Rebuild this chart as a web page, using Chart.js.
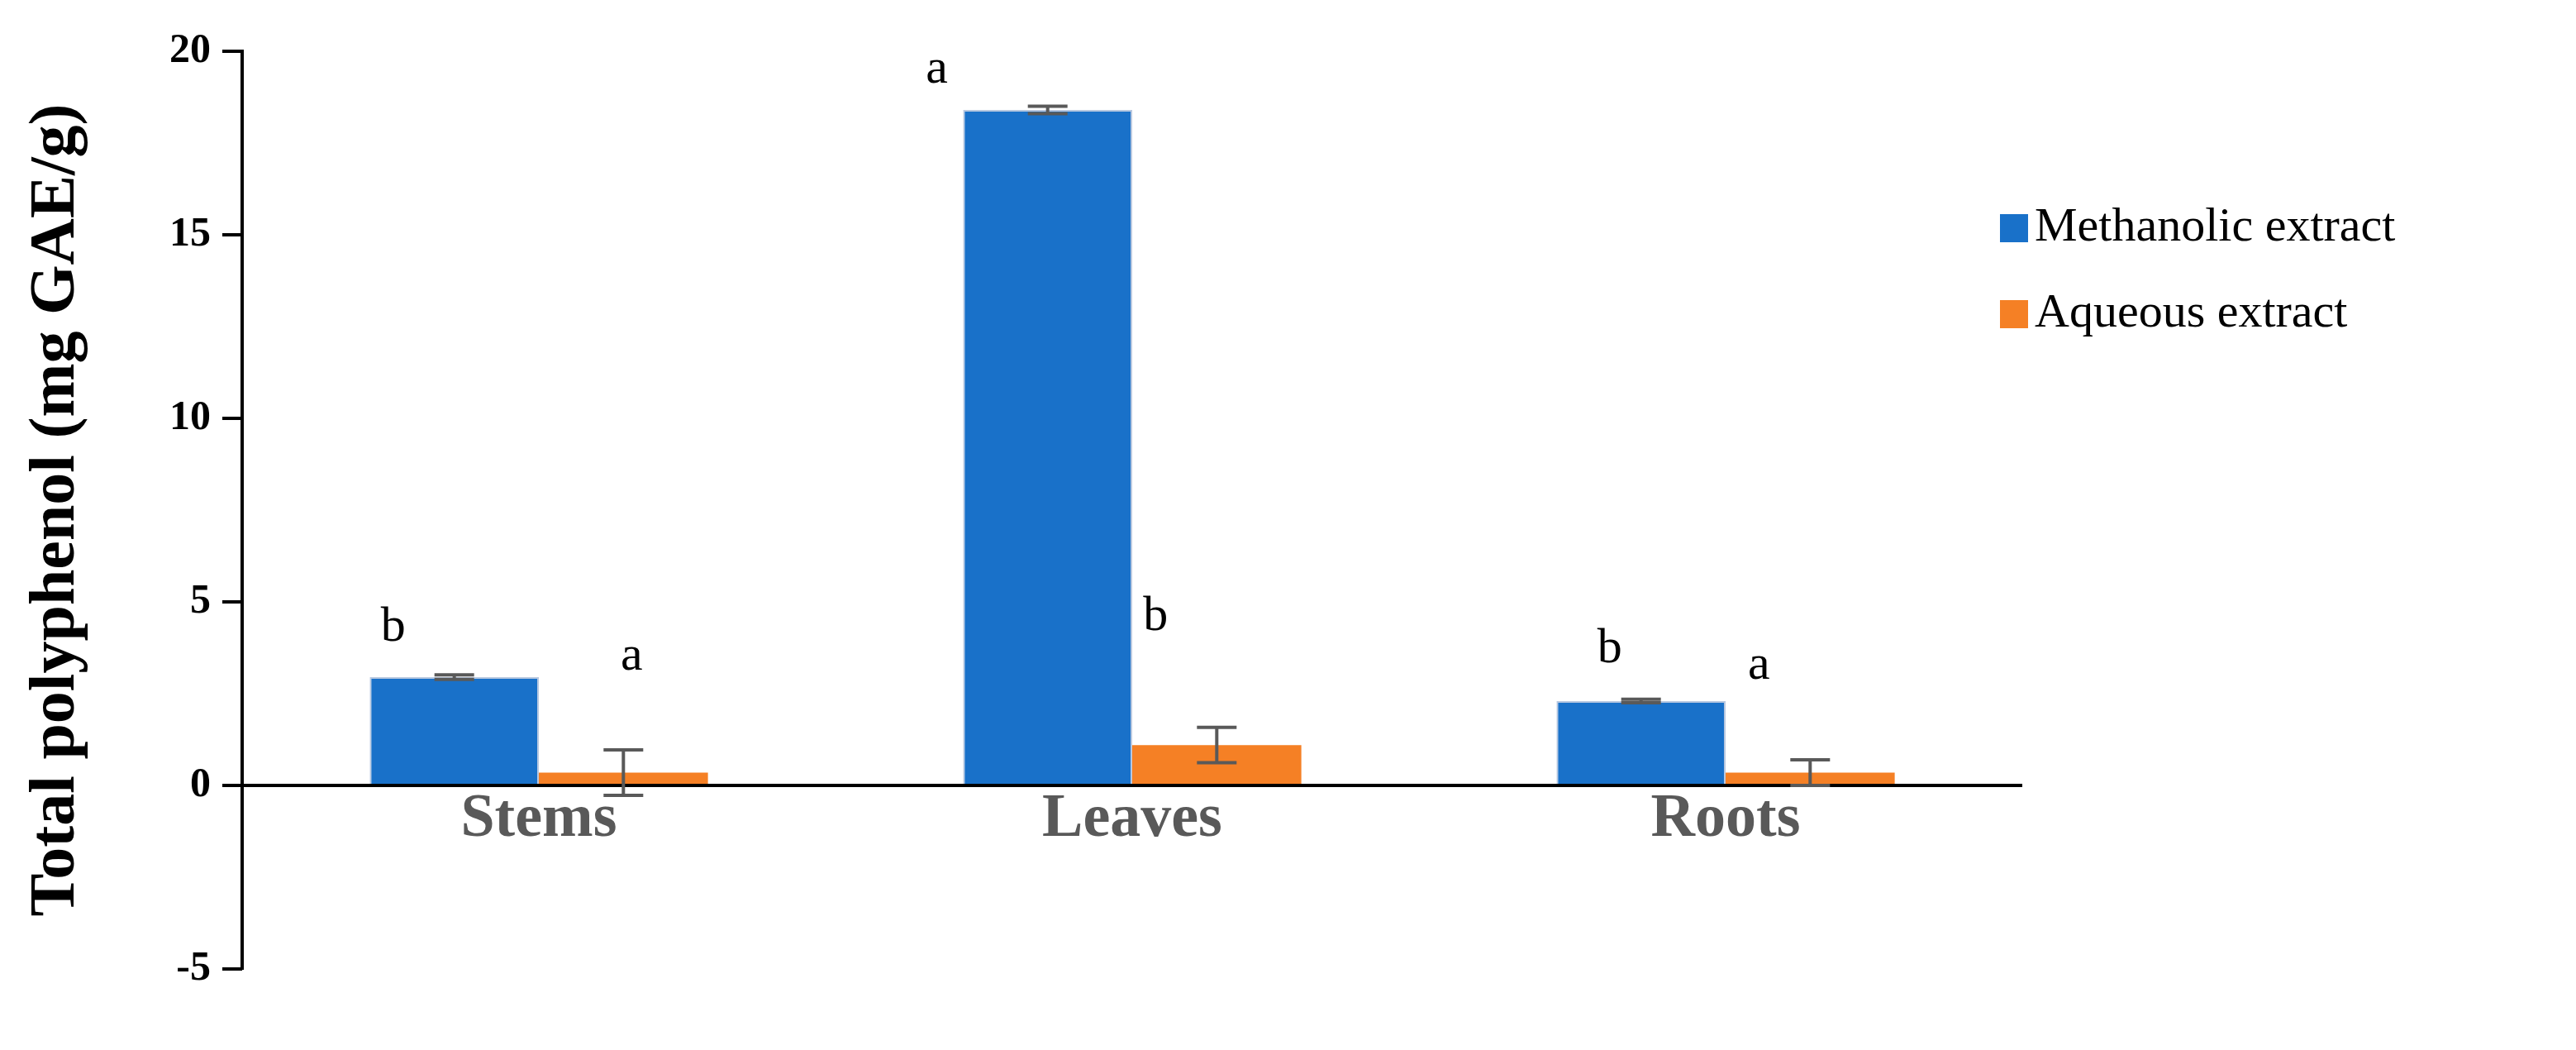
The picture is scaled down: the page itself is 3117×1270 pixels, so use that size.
<!DOCTYPE html>
<html><head><meta charset="utf-8">
<script src="https://cdn.jsdelivr.net/npm/chart.js@4"></script>
<style>html,body{margin:0;padding:0;background:#fff}#w{width:3117px;height:1270px}</style>
</head><body><div id="w"><canvas id="c"></canvas></div>
<script>
const categories = ["Stems", "Leaves", "Roots"];
const seriesNames = ["Methanolic extract", "Aqueous extract"];
const methanolic = [2.95, 18.4, 2.3];
const methanolicErr = [0.06, 0.1, 0.05];
const aqueous = [0.35, 1.1, 0.35];
const aqueousErr = [0.62, 0.48, 0.35];
const methanolicLetters = ["b", "a", "b"];
const aqueousLetters = ["a", "b", "a"];
const methanolicLetterY = [4.3, 19.5, 3.7];
const aqueousLetterY = [3.5, 4.6, 3.25];
const yTicks = [-5, 0, 5, 10, 15, 20];
const colors = ["#1971C9", "#F58025"];
const errs = [methanolicErr, aqueousErr];
const letters = [methanolicLetters, aqueousLetters];
const letterY = [methanolicLetterY, aqueousLetterY];
const letterDX = [[-74, -134, -38], [10, -74, -62]];

const extras = {
  id: 'extras',
  afterDatasetsDraw(chart) {
    const ctx = chart.ctx, y = chart.scales.y;
    ctx.save();
    ctx.strokeStyle = '#000'; ctx.lineWidth = 4;
    ctx.beginPath(); ctx.moveTo(chart.chartArea.left, y.getPixelForValue(0));
    ctx.lineTo(chart.chartArea.right, y.getPixelForValue(0)); ctx.stroke();
    chart.data.datasets.forEach((ds, di) => {
      const meta = chart.getDatasetMeta(di);
      meta.data.forEach((bar, i) => {
        const v = ds.data[i], e = errs[di][i];
        const y1 = y.getPixelForValue(v + e), y2 = y.getPixelForValue(v - e);
        ctx.strokeStyle = '#595959'; ctx.lineWidth = 4;
        ctx.beginPath();
        ctx.moveTo(bar.x, y1); ctx.lineTo(bar.x, y2);
        ctx.moveTo(bar.x - 24, y1); ctx.lineTo(bar.x + 24, y1);
        ctx.moveTo(bar.x - 24, y2); ctx.lineTo(bar.x + 24, y2);
        ctx.stroke();
        ctx.fillStyle = '#000'; ctx.font = '60px "Liberation Serif"';
        ctx.textAlign = 'center'; ctx.textBaseline = 'middle';
        ctx.fillText(letters[di][i], bar.x + letterDX[di][i], y.getPixelForValue(letterY[di][i]));
      });
    });
    const x = chart.scales.x;
    ctx.fillStyle = '#595959'; ctx.font = 'bold 74px "Liberation Serif"';
    ctx.textAlign = 'center'; ctx.textBaseline = 'middle';
    categories.forEach((c, i) => ctx.fillText(c, x.getPixelForValue(i), y.getPixelForValue(0) + 42));
    ctx.textAlign = 'left'; ctx.textBaseline = 'middle';
    ctx.font = '58px "Liberation Serif"';
    seriesNames.forEach((n, i) => {
      const ly = 276 + i * 104;
      ctx.fillStyle = colors[i]; ctx.fillRect(2420, ly - 17, 34, 34);
      ctx.fillStyle = '#000'; ctx.fillText(n, 2462, ly);
    });
    ctx.restore();
  }
};

new Chart(document.getElementById('c'), {
  type: 'bar',
  data: {
    labels: categories,
    datasets: [
      { label: seriesNames[0], data: methanolic, backgroundColor: colors[0], borderColor: '#b8c8e0', borderWidth: 2 },
      { label: seriesNames[1], data: aqueous, backgroundColor: colors[1], borderWidth: 0 }
    ]
  },
  options: {
    responsive: true, maintainAspectRatio: false, animation: false,
    layout: { padding: { left: 18, top: 62, right: 670, bottom: 98 } },
    plugins: { legend: { display: false }, tooltip: { enabled: false } },
    datasets: { bar: { categoryPercentage: 0.57, barPercentage: 1.0 } },
    scales: {
      x: {
        ticks: { display: false }, grid: { display: false }, border: { display: false },
        afterFit(s) { s.height = 0; }
      },
      y: {
        min: -5, max: 20,
        afterBuildTicks(s) { s.ticks = yTicks.map(v => ({ value: v })); },
        afterFit(s) { s.width = 275; },
        grid: { display: false },
        border: { display: true, color: '#000', width: 4 },
        ticks: { color: '#000', font: { family: 'Liberation Serif', weight: 'bold', size: 50 }, padding: 30 },
        title: { display: true, text: 'Total polyphenol (mg GAE/g)', color: '#000',
          font: { family: 'Liberation Serif', weight: 'bold', size: 78 }, padding: { bottom: 20 } }
      }
    }
  },
  plugins: [extras, {
    id: 'yticks',
    afterDraw(chart) {
      const ctx = chart.ctx, y = chart.scales.y, l = chart.chartArea.left;
      ctx.save(); ctx.strokeStyle = '#000'; ctx.lineWidth = 4;
      yTicks.forEach(v => { const p = y.getPixelForValue(v); ctx.beginPath(); ctx.moveTo(l - 24, p); ctx.lineTo(l, p); ctx.stroke(); });
      ctx.restore();
    }
  }]
});
</script></body></html>
